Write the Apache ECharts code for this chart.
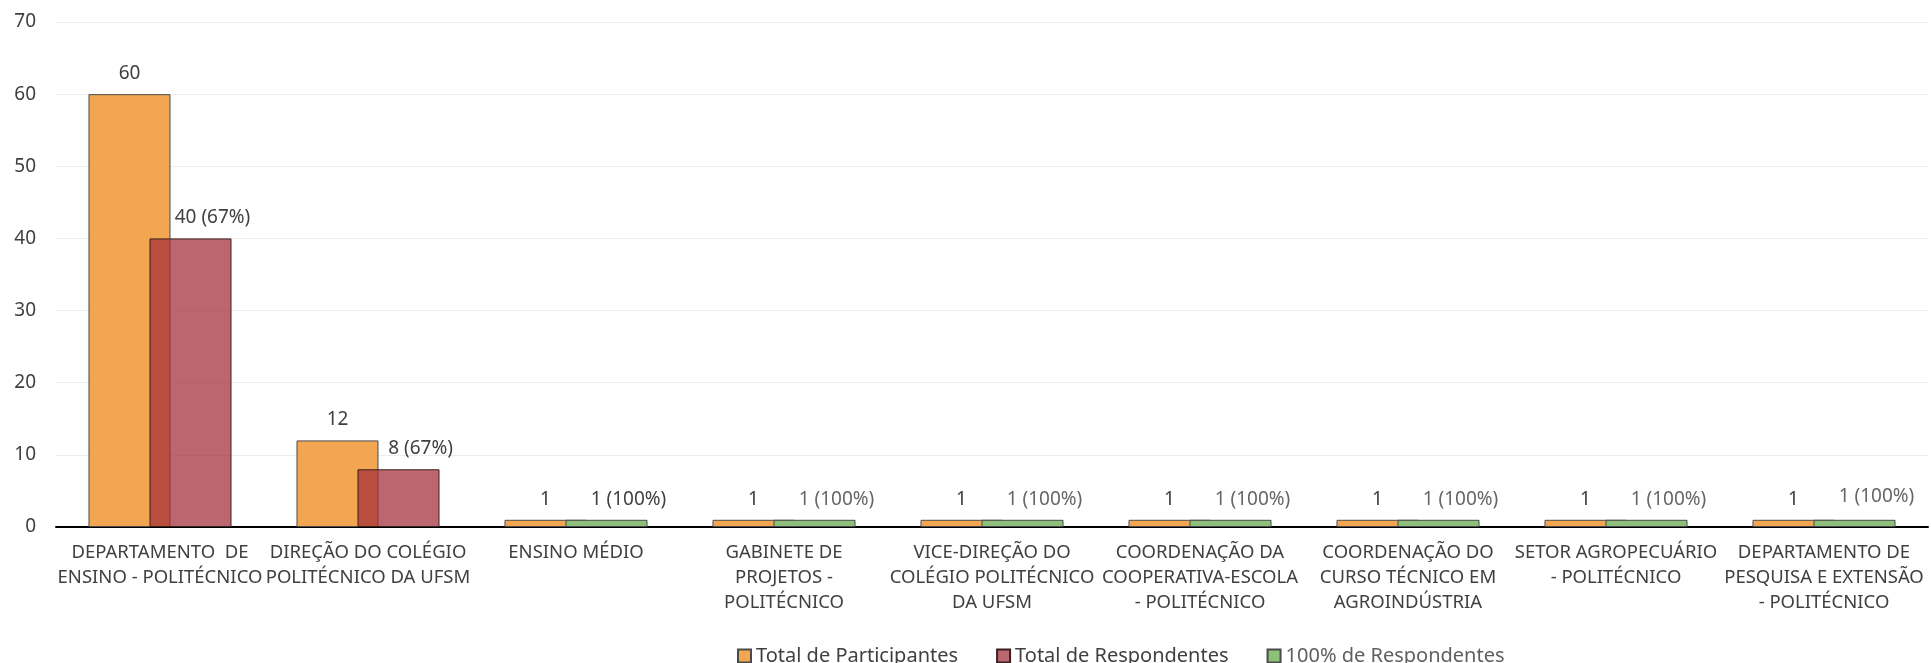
<!DOCTYPE html>
<html>
<head>
<meta charset="utf-8">
<script src="https://cdn.jsdelivr.net/npm/echarts@6/dist/echarts.min.js"></script>
<style>
  html, body { margin: 0; padding: 0; background: #fff; }
  #chart { width: 1931px; height: 663px; }
</style>
</head>
<body>
<div id="chart"></div>
<script>
// categorias (quebras de linha como no gráfico original)
const categories = [
  'DEPARTAMENTO  DE\nENSINO - POLITÉCNICO',
  'DIREÇÃO DO COLÉGIO\nPOLITÉCNICO DA UFSM',
  'ENSINO MÉDIO',
  'GABINETE DE\nPROJETOS -\nPOLITÉCNICO',
  'VICE-DIREÇÃO DO\nCOLÉGIO POLITÉCNICO\nDA UFSM',
  'COORDENAÇÃO DA\nCOOPERATIVA-ESCOLA\n- POLITÉCNICO',
  'COORDENAÇÃO DO\nCURSO TÉCNICO EM\nAGROINDÚSTRIA',
  'SETOR AGROPECUÁRIO\n- POLITÉCNICO',
  'DEPARTAMENTO DE\nPESQUISA E EXTENSÃO\n- POLITÉCNICO'
];
const participantes = [60, 12, 1, 1, 1, 1, 1, 1, 1];
const respondentes = [40, 8, '-', '-', '-', '-', '-', '-', '-'];
const respondentes100 = ['-', '-', 1, 1, 1, 1, 1, 1, 1];
const yTicks = { min: 0, max: 70, interval: 10 };

const font = 'Noto Sans';
const pct = (i, v) => v + ' (' + Math.round(v / participantes[i] * 100) + '%)';

const chart = echarts.init(document.getElementById('chart'));

const option = {
  animation: false,
  textStyle: { fontFamily: font },
  grid: { left: 56, right: 3, top: 22, bottom: 136, containLabel: false },
  legend: {
    left: 732,
    top: 641,
    itemWidth: 13,
    itemHeight: 13,
    itemGap: 38,
    textStyle: { fontSize: 20, color: '#404040', fontFamily: font },
    data: [
      { name: 'Total de Participantes', icon: 'rect' },
      { name: 'Total de Respondentes', icon: 'rect' },
      { name: '100% de Respondentes', icon: 'rect', textStyle: { color: '#5f5f5f' } }
    ]
  },
  xAxis: {
    type: 'category',
    data: categories,
    axisLine: { lineStyle: { color: '#000', width: 2 } },
    axisTick: { show: false },
    axisLabel: {
      interval: 0,
      margin: 13,
      fontSize: 18.5,
      lineHeight: 25,
      color: '#404040',
      fontFamily: font
    }
  },
  yAxis: {
    type: 'value',
    min: yTicks.min,
    max: yTicks.max,
    interval: yTicks.interval,
    axisLine: { show: false },
    axisTick: { show: false },
    splitLine: { lineStyle: { color: '#ececec', width: 1 } },
    axisLabel: { fontSize: 19, color: '#404040', margin: 20, fontFamily: font }
  },
  series: [
    {
      name: 'Total de Participantes',
      type: 'bar',
      barWidth: 82,
      barGap: '-25.6%',
      data: participantes,
      itemStyle: { color: '#f2a652', borderColor: '#4a4a4a', borderWidth: 1 },
      label: {
        show: true,
        position: 'top',
        distance: 11,
        fontSize: 19,
        color: '#404040',
        fontFamily: font
      }
    },
    {
      name: 'Total de Respondentes',
      type: 'bar',
      stack: 'resp',
      barWidth: 82,
      data: respondentes,
      itemStyle: { color: 'rgba(162,45,56,0.72)', borderColor: '#3a2020', borderWidth: 1 },
      label: {
        show: true,
        position: 'top',
        distance: 11,
        offset: [22, 0],
        fontSize: 19,
        color: '#404040',
        fontFamily: font,
        formatter: p => pct(p.dataIndex, p.value)
      }
    },
    {
      name: '100% de Respondentes',
      type: 'bar',
      stack: 'resp',
      barWidth: 82,
      data: respondentes100.map((v, i) => {
        if (v === '-') return v;
        const item = { value: v };
        if (i === 2) item.label = { color: '#404040' };
        if (i === 8) item.label = { offset: [22, -3] };
        return item;
      }),
      itemStyle: { color: '#8dc07a', borderColor: '#4a4a4a', borderWidth: 1 },
      label: {
        show: true,
        position: 'top',
        distance: 11,
        offset: [22, 0],
        fontSize: 19,
        color: '#666666',
        fontFamily: font,
        formatter: p => pct(p.dataIndex, p.value)
      }
    }
  ]
};

chart.setOption(option);
</script>
</body>
</html>
